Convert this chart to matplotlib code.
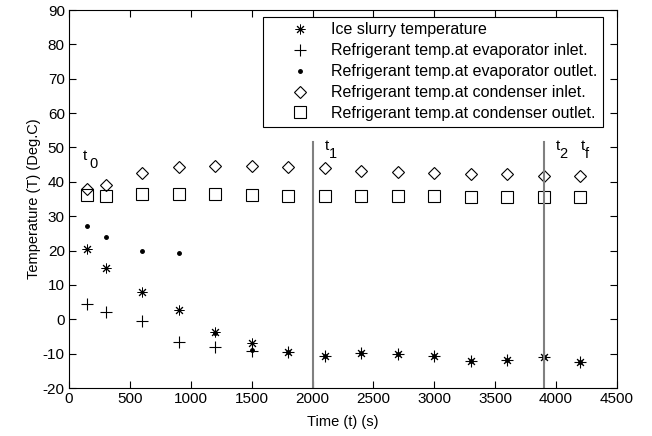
import matplotlib
matplotlib.use("Agg")
import matplotlib.pyplot as plt

plt.rcParams['font.family'] = ['Liberation Sans', 'DejaVu Sans']
plt.rcParams['axes.unicode_minus'] = False

time_s = [150, 300, 600, 900, 1200, 1500, 1800, 2100, 2400, 2700, 3000, 3300, 3600, 3900, 4200]
ice_slurry = [20.5, 14.9, 7.9, 2.8, -3.8, -6.9, -9.4, -10.6, -9.9, -10.1, -10.8, -12.0, -11.8, -11.1, -12.3]
evap_inlet = [4.4, 2.1, -0.6, -6.6, -8.1, -9.1, -9.6, -10.6, -9.9, -10.1, -10.8, -12.0, -11.8, -11.1, -12.3]
evap_outlet = [27.1, 23.9, 20.0, 19.3, -4.0, -8.8, -9.5, -10.6, -9.9, -10.1, -10.8, -12.0, -11.8, -11.1, -12.3]
cond_inlet = [38.0, 39.2, 42.6, 44.3, 44.6, 44.6, 44.3, 43.9, 43.1, 42.8, 42.6, 42.3, 42.3, 41.6, 41.6]
cond_outlet = [36.1, 35.8, 36.5, 36.5, 36.5, 36.1, 35.8, 35.8, 35.8, 35.8, 35.8, 35.5, 35.5, 35.5, 35.5]

labels = ["Ice slurry temperature",
          "Refrigerant temp.at evaporator inlet.",
          "Refrigerant temp.at evaporator outlet.",
          "Refrigerant temp.at condenser inlet.",
          "Refrigerant temp.at condenser outlet."]

stage_times = [2000, 3900]
stage_subs = ["0", "1", "2", "f"]
stage_label_x = [131, 2118, 4015, 4220]
stage_sub_x = [200, 2168, 4058, 4255]
stage_label_y = [47.5, 50.4, 50.4, 50.4]

fig = plt.figure(figsize=(6.52, 4.36), dpi=100)
ax = fig.add_axes([69/652, 1-388/436, (617-69)/652, (388-10)/436])

ax.plot(time_s, ice_slurry, linestyle='none', marker=(8, 2, 0), markersize=7,
        color='black', markeredgewidth=0.7, label=labels[0])
ax.plot(time_s, evap_inlet, linestyle='none', marker='+', markersize=9,
        color='black', markeredgewidth=0.8, label=labels[1])
ax.plot(time_s, evap_outlet, linestyle='none', marker='.', markersize=5,
        color='black', label=labels[2])
ax.plot(time_s, cond_inlet, linestyle='none', marker='D', markersize=6.5,
        markerfacecolor='none', markeredgecolor='black', markeredgewidth=0.8,
        label=labels[3])
ax.plot(time_s, cond_outlet, linestyle='none', marker='s', markersize=8,
        markerfacecolor='none', markeredgecolor='black', markeredgewidth=0.8,
        label=labels[4])

for t in stage_times:
    ax.plot([t, t], [-20, 51.5], color='#808080', linewidth=1.5)

for lx, sx, ly, ls in zip(stage_label_x, stage_sub_x, stage_label_y, stage_subs):
    ax.text(lx, ly, "t", fontsize=11, ha='center', va='center')
    ax.text(sx, ly - 2.4, ls, fontsize=10.5, ha='center', va='center')

ax.set_xlim(0, 4500)
ax.set_ylim(-20, 90)
ax.set_xticks(range(0, 4501, 500))
ax.set_yticks(range(-20, 91, 10))
ax.tick_params(direction='in', top=True, right=True, labelsize=11, length=5, width=0.8, pad=3)
for s in ax.spines.values():
    s.set_linewidth(0.8)
ax.set_xlabel("Time (t) (s)", fontsize=10.5, labelpad=6)
ax.set_ylabel("Temperature (T) (Deg.C)", fontsize=10.5, labelpad=1.5)

leg = ax.legend(loc='upper right', bbox_to_anchor=(0.9745, 0.982), fontsize=11.5,
                frameon=True, fancybox=False, edgecolor='black', framealpha=1,
                handlelength=3.9, handletextpad=0.0, borderpad=0.35, labelspacing=0.37,
                borderaxespad=0, numpoints=1)
leg.get_frame().set_linewidth(0.8)

fig.savefig("out.png", dpi=100)
